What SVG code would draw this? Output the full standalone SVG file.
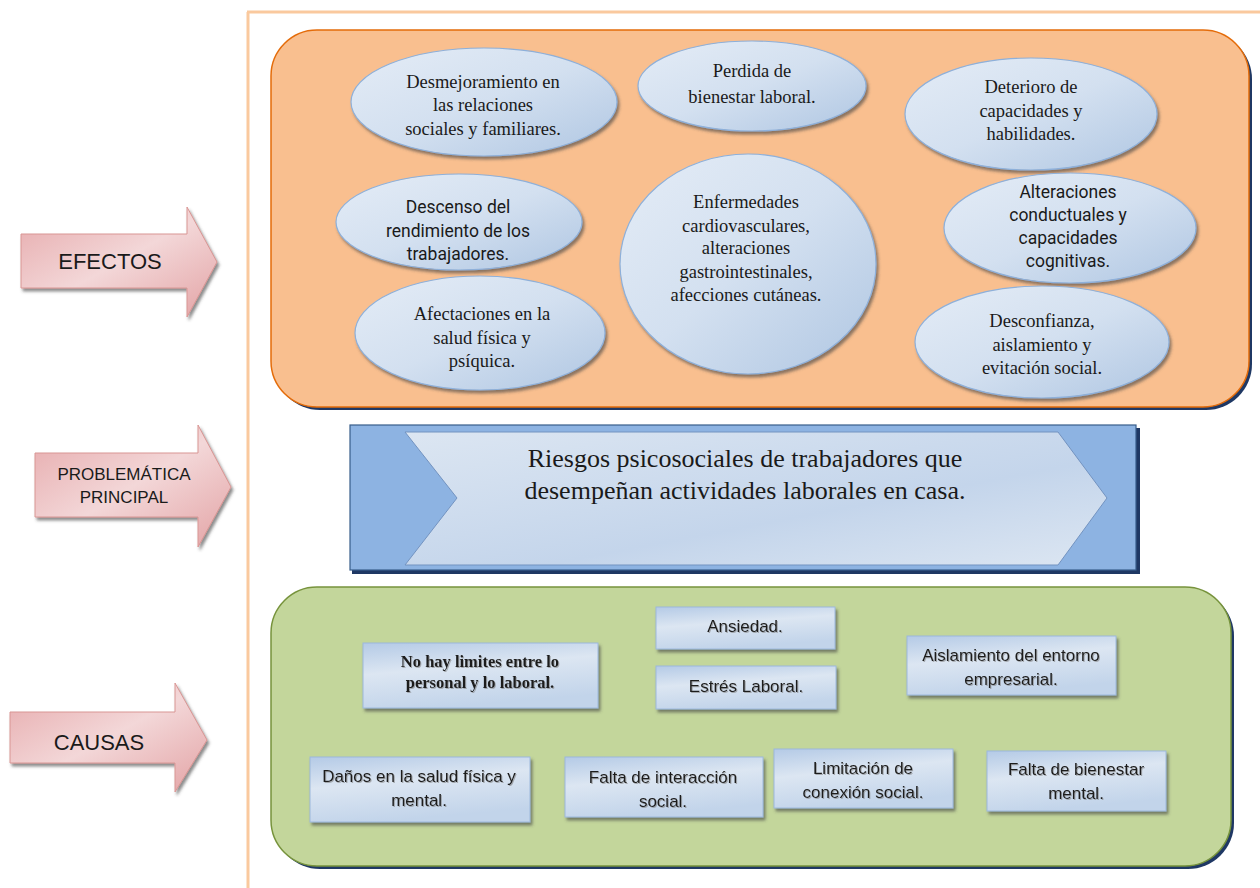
<svg xmlns="http://www.w3.org/2000/svg" width="1260" height="888" viewBox="0 0 1260 888">
<defs>
<linearGradient id="gEll" x1="0" y1="0" x2="1" y2="1">
<stop offset="0" stop-color="#E4ECF6"/><stop offset="0.5" stop-color="#D3E0F0"/><stop offset="1" stop-color="#AFC6E2"/>
</linearGradient>
<linearGradient id="gRect" x1="0" y1="0" x2="0.3" y2="1">
<stop offset="0" stop-color="#B4CAE6"/><stop offset="0.45" stop-color="#DCE6F2"/><stop offset="1" stop-color="#C2D4EA"/>
</linearGradient>
<linearGradient id="gArrow" x1="0" y1="0" x2="1" y2="1">
<stop offset="0" stop-color="#E6A9AB"/><stop offset="0.5" stop-color="#F3D7D8"/><stop offset="1" stop-color="#E3A3A5"/>
</linearGradient>
<linearGradient id="gChev" x1="0" y1="0" x2="1" y2="1">
<stop offset="0" stop-color="#DCE6F2"/><stop offset="0.6" stop-color="#C4D5EB"/><stop offset="1" stop-color="#DCE6F2"/>
</linearGradient>
<filter id="sh" x="-10%" y="-10%" width="125%" height="130%">
<feDropShadow dx="2" dy="3" stdDeviation="1.5" flood-color="#404040" flood-opacity="0.6"/>
</filter>
<filter id="tsh" x="-5%" y="-20%" width="110%" height="150%">
<feDropShadow dx="1" dy="1" stdDeviation="0.6" flood-color="#808080" flood-opacity="0.6"/>
</filter>
</defs>
<style>
.ell{fill:url(#gEll);stroke:#8EB0DA;stroke-width:1.2;filter:url(#sh)}
.rct{fill:url(#gRect);stroke:#9CB8DC;stroke-width:1;filter:url(#sh)}
.arr{fill:url(#gArrow);stroke:#D99694;stroke-width:1;filter:url(#sh)}
.serif{font-family:"Liberation Serif","Times New Roman",serif;font-size:18.5px;fill:#1a1a1a;text-anchor:middle}
.sans{font-family:Roboto,"Liberation Sans",sans-serif;font-size:17.5px;fill:#1a1a1a;text-anchor:middle}
.box{font-family:"Liberation Sans",Arial,sans-serif;font-size:17px;fill:#1a1a1a;text-anchor:middle;filter:url(#tsh)}
.lbl{font-family:"Liberation Sans",Arial,sans-serif;fill:#1a1a1a;text-anchor:middle}
</style>
<rect width="1260" height="888" fill="#ffffff"/>
<g id="frame" fill="none" stroke="#FAC99E" stroke-width="3">
<line x1="247" y1="12" x2="1260" y2="12"/>
<line x1="248" y1="12" x2="248" y2="888"/>
</g>
<g id="arrow-efectos">
<polygon class="arr" points="21,234 187,234 187,207 217,262 187,317 187,288 21,288"/>
<text class="lbl" x="110" y="269" font-size="22">EFECTOS</text>
</g>
<g id="arrow-problematica">
<polygon class="arr" points="35,453 198,453 198,425 231,487 198,547 198,517 35,517"/>
<text class="lbl" x="124" y="480" font-size="17">PROBLEMÁTICA</text>
<text class="lbl" x="124" y="503" font-size="17">PRINCIPAL</text>
</g>
<g id="arrow-causas">
<polygon class="arr" points="10,712 175,712 175,683 207,740 175,792 175,763 10,763"/>
<text class="lbl" x="99" y="750" font-size="22">CAUSAS</text>
</g>
<g id="efectos-box">
<rect x="274" y="33" width="978" height="377" rx="46" fill="#1F3864"/>
<rect x="271" y="30" width="978" height="377" rx="46" fill="#F9BF8F" stroke="#E46C0A" stroke-width="1.5"/>
</g>
<g id="e1">
<ellipse class="ell" cx="484" cy="102" rx="133" ry="54"/>
<text class="serif"><tspan x="483" y="88">Desmejoramiento en</tspan><tspan x="483" y="111">las  relaciones</tspan><tspan x="483" y="135">sociales y familiares.</tspan></text>
</g>
<g id="e2">
<ellipse class="ell" cx="459" cy="222" rx="123" ry="48"/>
<text class="sans"><tspan x="458" y="213">Descenso del</tspan><tspan x="458" y="237">rendimiento de los</tspan><tspan x="458" y="260">trabajadores.</tspan></text>
</g>
<g id="e3">
<ellipse class="ell" cx="480" cy="333" rx="125" ry="57"/>
<text class="serif"><tspan x="482" y="320">Afectaciones en la</tspan><tspan x="482" y="344">salud física y</tspan><tspan x="482" y="367">psíquica.</tspan></text>
</g>
<g id="e4">
<ellipse class="ell" cx="752" cy="86" rx="114" ry="45"/>
<text class="serif"><tspan x="752" y="77">Perdida de</tspan><tspan x="752" y="103">bienestar laboral.</tspan></text>
</g>
<g id="e5">
<ellipse class="ell" cx="1031" cy="114" rx="126" ry="56"/>
<text class="serif"><tspan x="1031" y="93">Deterioro de</tspan><tspan x="1031" y="117">capacidades y</tspan><tspan x="1031" y="140">habilidades.</tspan></text>
</g>
<g id="e6">
<ellipse class="ell" cx="748" cy="264" rx="128" ry="110"/>
<text class="serif"><tspan x="746" y="208">Enfermedades</tspan><tspan x="746" y="232">cardiovasculares,</tspan><tspan x="746" y="254">alteraciones</tspan><tspan x="746" y="278">gastrointestinales,</tspan><tspan x="746" y="301">afecciones cutáneas.</tspan></text>
</g>
<g id="e7">
<ellipse class="ell" cx="1070" cy="228" rx="126" ry="55"/>
<text class="sans"><tspan x="1068" y="198">Alteraciones</tspan><tspan x="1068" y="221">conductuales y</tspan><tspan x="1068" y="244">capacidades</tspan><tspan x="1068" y="267">cognitivas.</tspan></text>
</g>
<g id="e8">
<ellipse class="ell" cx="1042" cy="342" rx="127" ry="56"/>
<text class="serif"><tspan x="1042" y="327">Desconfianza,</tspan><tspan x="1042" y="351">aislamiento y</tspan><tspan x="1042" y="374">evitación social.</tspan></text>
</g>
<g id="problematica-box">
<rect x="352" y="428" width="788" height="146" fill="#1F3864"/>
<rect x="350" y="425" width="786" height="145" fill="#8DB3E2" stroke="#385D8A" stroke-width="1.2"/>
<polygon points="405,432 1058,432 1107,498 1058,565 405,565 457,498" fill="url(#gChev)" stroke="#7393C0" stroke-width="1"/>
<text style="font-family:'Liberation Serif','Times New Roman',serif;font-size:26px;fill:#1a1a1a;text-anchor:middle"><tspan x="745" y="467">Riesgos psicosociales de trabajadores que</tspan><tspan x="745" y="499">desempeñan actividades laborales en casa.</tspan></text>
</g>
<g id="causas-box">
<rect x="274" y="590" width="960" height="279" rx="46" fill="#1F3864"/>
<rect x="271" y="587" width="960" height="279" rx="46" fill="#C3D69B" stroke="#77933C" stroke-width="1.5"/>
</g>
<g id="c1">
<rect class="rct" x="363" y="643" width="235" height="65"/>
<text class="serif" style="font-size:16.5px;font-weight:bold;filter:url(#tsh)"><tspan x="480" y="667">No hay limites entre lo</tspan><tspan x="480" y="688">personal y lo laboral.</tspan></text>
</g>
<g id="c2">
<rect class="rct" x="656" y="607" width="179" height="42"/>
<text class="box" x="745" y="632">Ansiedad.</text>
</g>
<g id="c3">
<rect class="rct" x="656" y="666" width="180" height="43"/>
<text class="box" x="746" y="692">Estrés Laboral.</text>
</g>
<g id="c4">
<rect class="rct" x="907" y="636" width="209" height="59"/>
<text class="box"><tspan x="1011" y="661">Aislamiento del entorno</tspan><tspan x="1011" y="685">empresarial.</tspan></text>
</g>
<g id="c5">
<rect class="rct" x="310" y="757" width="220" height="65"/>
<text class="box"><tspan x="419" y="782">Daños en la salud física y</tspan><tspan x="419" y="806">mental.</tspan></text>
</g>
<g id="c6">
<rect class="rct" x="565" y="757" width="198" height="60"/>
<text class="box"><tspan x="663" y="783">Falta de interacción</tspan><tspan x="663" y="807">social.</tspan></text>
</g>
<g id="c7">
<rect class="rct" x="774" y="749" width="179" height="59"/>
<text class="box"><tspan x="863" y="774">Limitación de</tspan><tspan x="863" y="798">conexión social.</tspan></text>
</g>
<g id="c8">
<rect class="rct" x="987" y="751" width="179" height="60"/>
<text class="box"><tspan x="1076" y="775">Falta de bienestar</tspan><tspan x="1076" y="799">mental.</tspan></text>
</g>
<g id="connectors"/>
</svg>
